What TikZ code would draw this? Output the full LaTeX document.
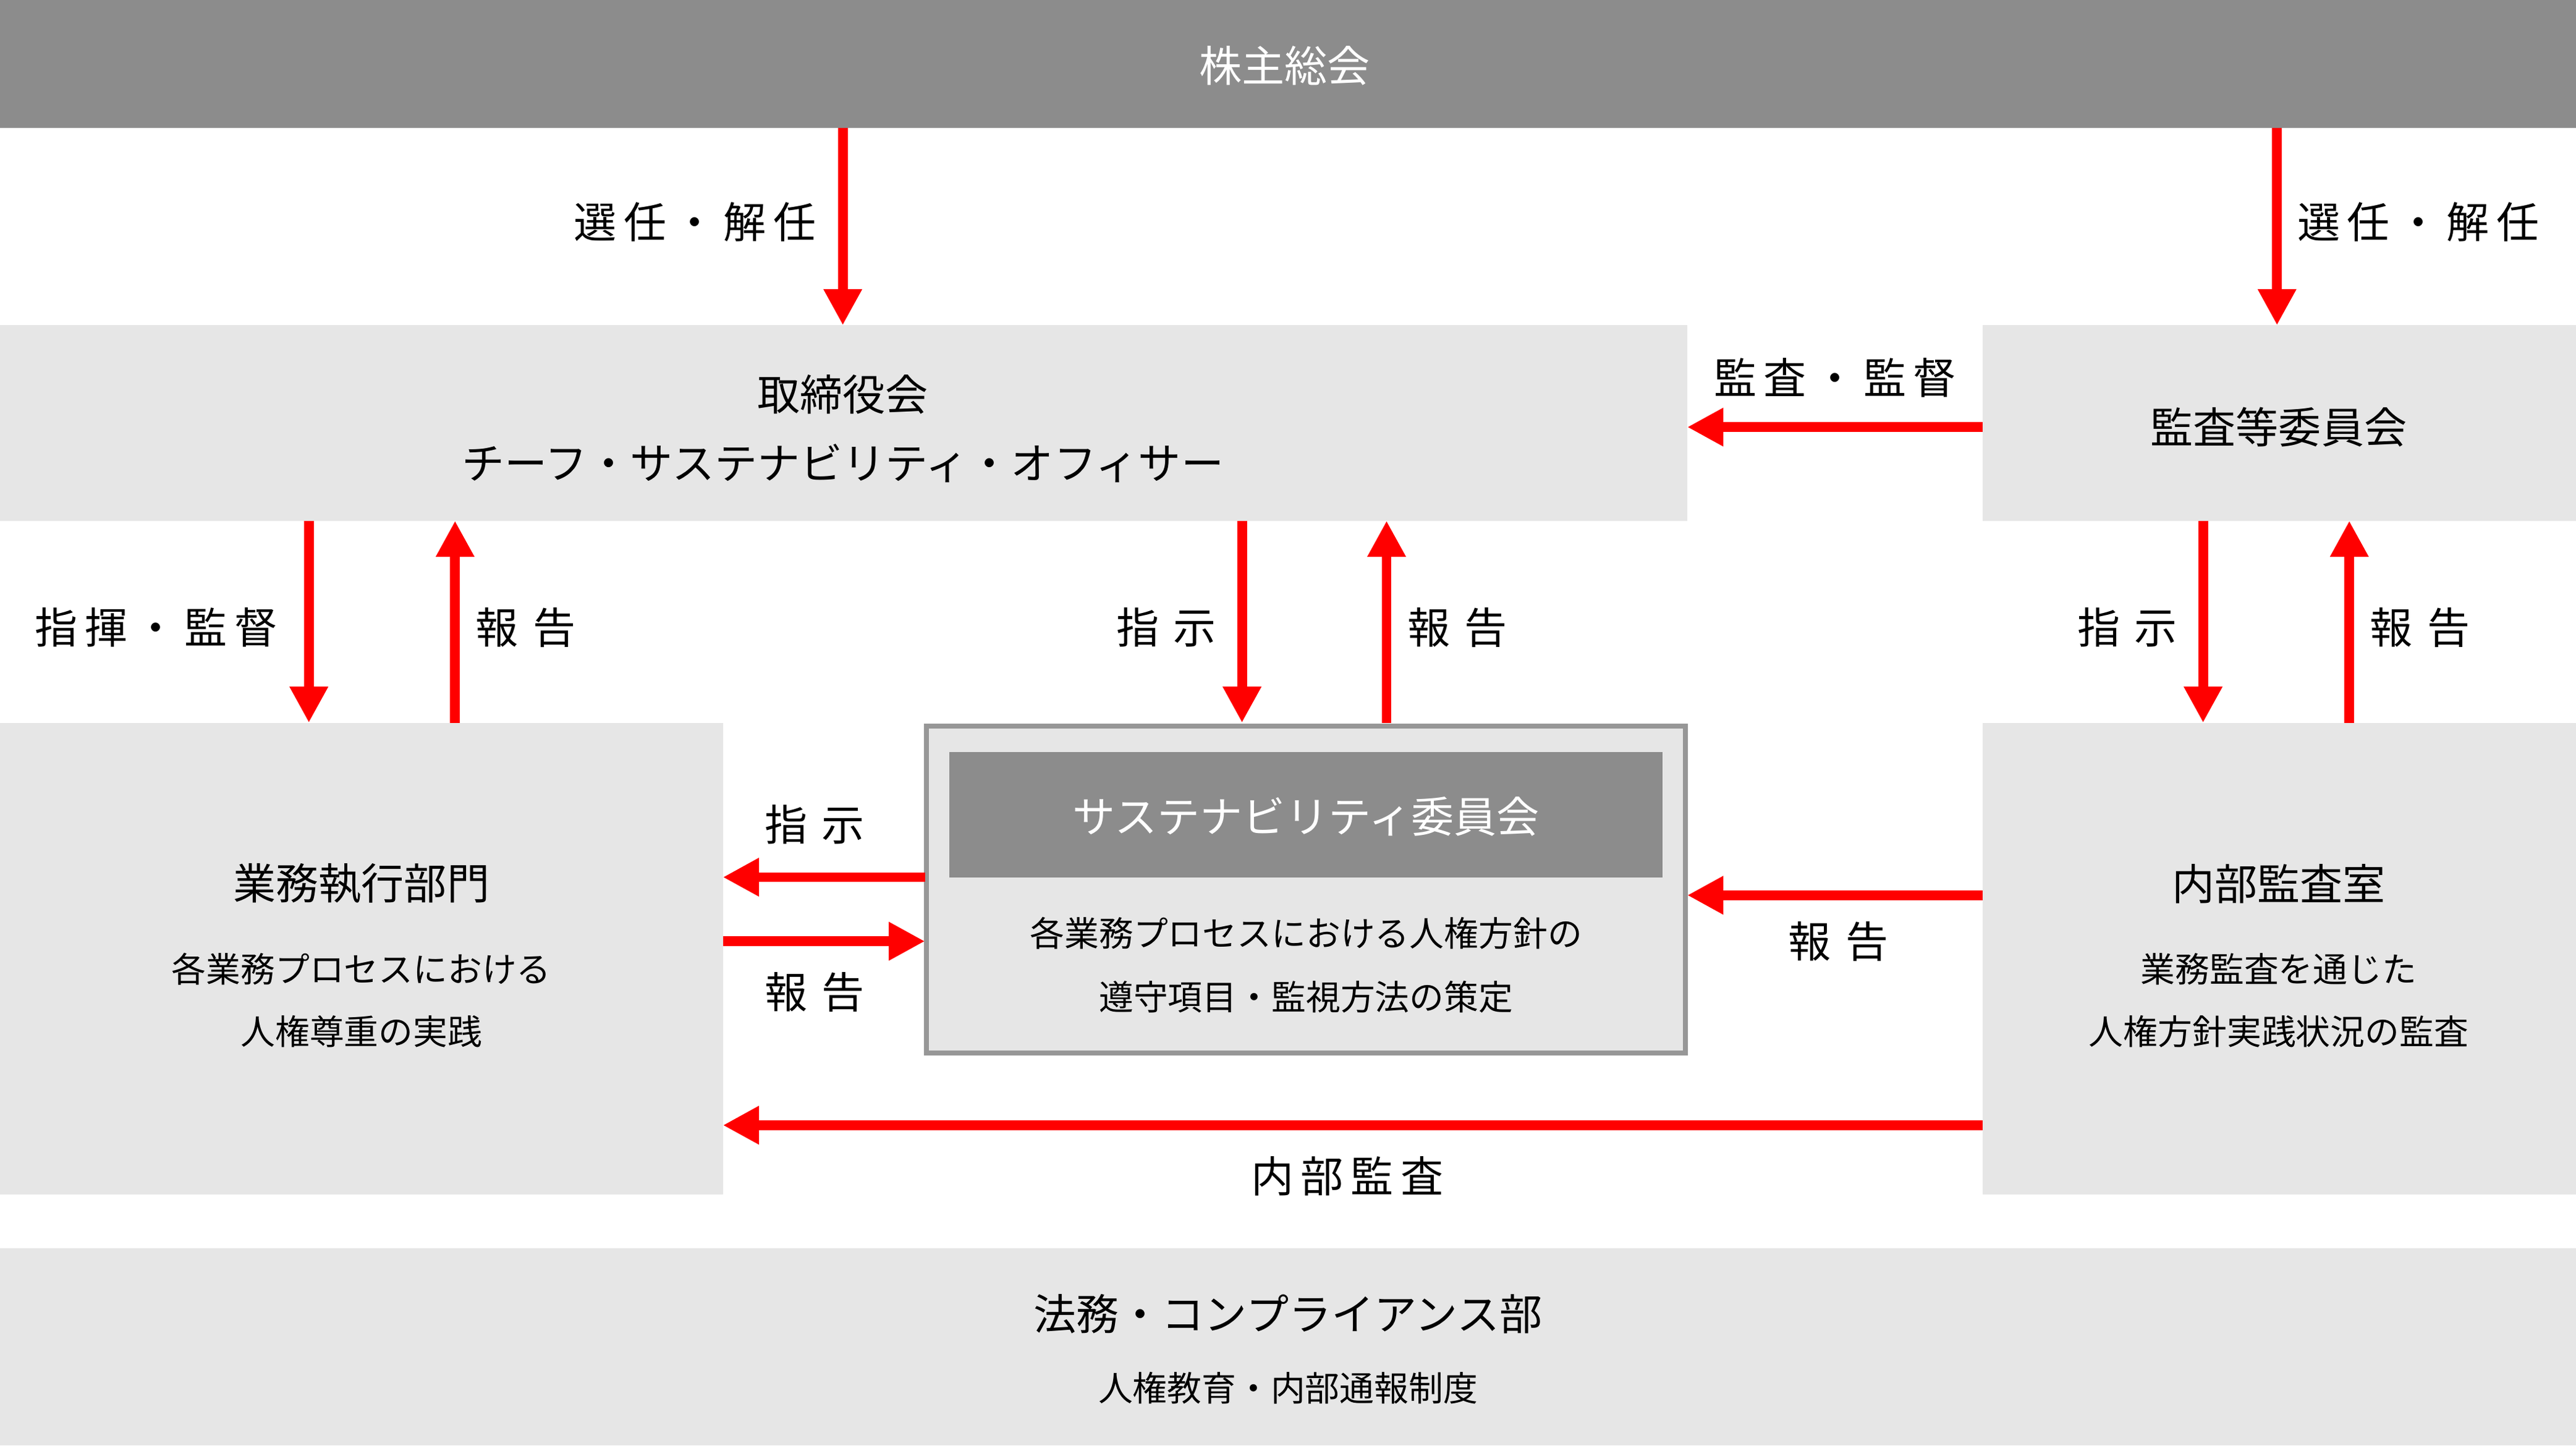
\documentclass[tikz,border=0pt]{standalone}
\usepackage{fontspec}
\setmainfont{Noto Sans CJK JP}
\usetikzlibrary{arrows.meta}
\definecolor{dg}{HTML}{8C8C8C}
\definecolor{lg}{HTML}{E6E6E6}
\definecolor{rd}{HTML}{FF0000}
\begin{document}
\begin{tikzpicture}[x=0.5pt,y=-0.5pt,
  box/.style={fill=lg,draw=none},
  arr/.style={draw=rd,line width=3pt,-{Triangle[length=11pt,width=11pt]}},
  lab/.style={font=\fontsize{13}{15}\selectfont},
  ttl/.style={font=\fontsize{13}{15}\selectfont},
  sub/.style={font=\fontsize{10.5}{13}\selectfont}]
\useasboundingbox (0,0) rectangle (1568,880);
\fill[white] (0,0) rectangle (1568,880);
% boxes
\fill[dg] (0,0) rectangle (1568,78);
\node[ttl,text=white] (gm) at (782,40) {株主総会};
\path[box] (0,198) rectangle (1027,317);
\coordinate (board) at (513,258);
\node[ttl] (b1) at (513,240) {取締役会};
\node[ttl] (b2) at (513,282) {チーフ・サステナビリティ・オフィサー};
\path[box] (1207,198) rectangle (1568,317);
\node[ttl] (ac) at (1387,260) {監査等委員会};
\path[box] (0,440) rectangle (440,727);
\node[ttl] (bu) at (220,538) {業務執行部門};
\node[sub] (bu1) at (220,590) {各業務プロセスにおける};
\node[sub] (bu2) at (220,628) {人権尊重の実践};
\draw[fill=lg,draw=dg!90,line width=1.5pt] (564,442) rectangle (1026,641);
\fill[dg] (578,458) rectangle (1012,534);
\node[ttl,text=white] (sc) at (795,497) {サステナビリティ委員会};
\node[sub] (sc1) at (795,568) {各業務プロセスにおける人権方針の};
\node[sub] (sc2) at (795,607) {遵守項目・監視方法の策定};
\path[box] (1207,440) rectangle (1568,727);
\node[ttl] (ia) at (1387,538) {内部監査室};
\node[sub] (ia1) at (1387,590) {業務監査を通じた};
\node[sub] (ia2) at (1387,628) {人権方針実践状況の監査};
\path[box] (0,760) rectangle (1568,880);
\node[ttl] (lg) at (784,800) {法務・コンプライアンス部};
\node[sub] (lg1) at (784,845) {人権教育・内部通報制度};
% arrows
\coordinate (a1s) at (513,78); \coordinate (a1e) at (513,198);
\draw[arr] (a1s) -- (a1e);
\node[lab] at (423,135) {選\,任\,・\,解\,任};
\coordinate (a2s) at (1386,78); \coordinate (a2e) at (1386,198);
\draw[arr] (a2s) -- (a2e);
\node[lab] at (1472,135) {選\,任\,・\,解\,任};
\coordinate (a3s) at (1207,260); \coordinate (a3e) at (1027,260);
\draw[arr] (a3s) -- (a3e);
\node[lab] at (1117,230) {監\,査\,・\,監\,督};
\coordinate (a4s) at (188,317); \coordinate (a4e) at (188,440);
\draw[arr] (a4s) -- (a4e);
\node[lab] at (95,382) {指\,揮\,・\,監\,督};
\coordinate (a5s) at (277,440); \coordinate (a5e) at (277,317);
\draw[arr] (a5s) -- (a5e);
\node[lab] at (320,382) {報\,\,告};
\coordinate (a6s) at (756,317); \coordinate (a6e) at (756,440);
\draw[arr] (a6s) -- (a6e);
\node[lab] at (710,382) {指\,\,示};
\coordinate (a7s) at (844,440); \coordinate (a7e) at (844,317);
\draw[arr] (a7s) -- (a7e);
\node[lab] at (887,382) {報\,\,告};
\coordinate (a8s) at (1341,317); \coordinate (a8e) at (1341,440);
\draw[arr] (a8s) -- (a8e);
\node[lab] at (1295,382) {指\,\,示};
\coordinate (a9s) at (1430,440); \coordinate (a9e) at (1430,317);
\draw[arr] (a9s) -- (a9e);
\node[lab] at (1473,382) {報\,\,告};
\coordinate (b1s) at (563,534); \coordinate (b1e) at (440,534);
\draw[arr] (b1s) -- (b1e);
\node[lab] at (496,502) {指\,\,示};
\coordinate (b2s) at (440,573); \coordinate (b2e) at (563,573);
\draw[arr] (b2s) -- (b2e);
\node[lab] at (496,604) {報\,\,告};
\coordinate (b3s) at (1207,545); \coordinate (b3e) at (1027,545);
\draw[arr] (b3s) -- (b3e);
\node[lab] at (1119,573) {報\,\,告};
\coordinate (b4s) at (1207,685); \coordinate (b4e) at (440,685);
\draw[arr] (b4s) -- (b4e);
\node[lab] at (820,716) {内\,部\,監\,査};
\end{tikzpicture}
\end{document}
